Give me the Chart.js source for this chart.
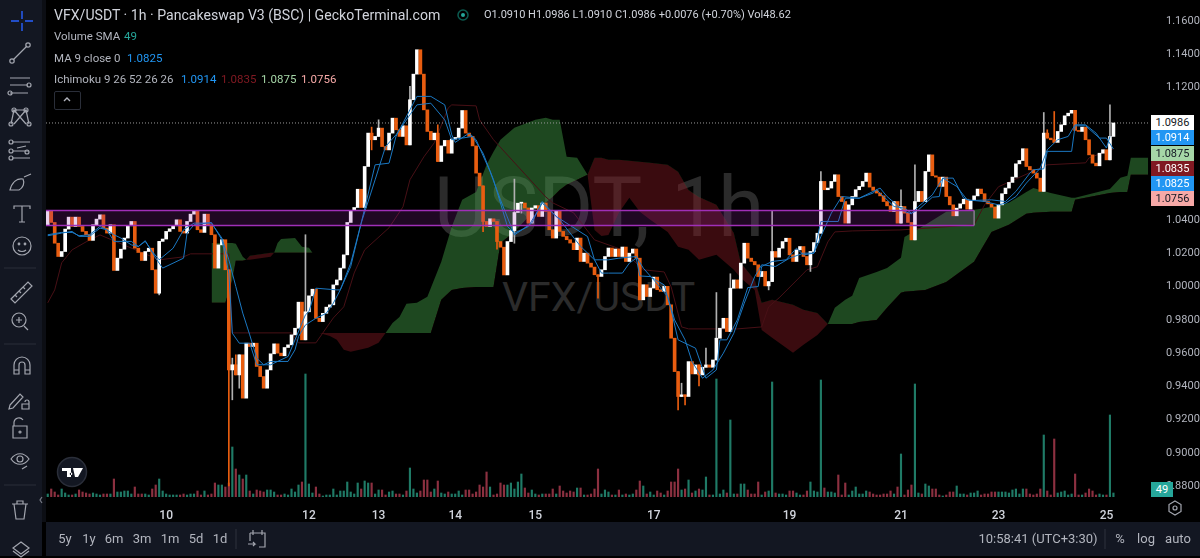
<!DOCTYPE html>
<html>
<head>
<meta charset="utf-8">
<title>VFX/USDT</title>
<script src="https://cdn.jsdelivr.net/npm/chart.js@4"></script>
<style>
  html, body { margin: 0; padding: 0; background: #000; }
  body { width: 1200px; height: 558px; overflow: hidden; position: relative; font-family: Roboto, sans-serif; }
  #chart { position: absolute; left: 0; top: 0; z-index: 2; }
  .abs { position: absolute; white-space: nowrap; }
  .wm { z-index: 1; color: #2b2b2b; }
  #wm1 { left: 434px; top: 158px; font-size: 84px; line-height: 100px; }
  #wm2 { left: 502px; top: 272px; font-size: 41px; line-height: 50px; }
  .panel { background: #131722; z-index: 3; }
  #leftbar { left: 0; top: 0; width: 42px; height: 556px; }
  #leftgap { left: 42px; top: 0; width: 4px; height: 522px; background: #0c0e14; z-index: 3; }
  #bottombar { left: 46px; top: 522px; width: 1154px; height: 34px; background: #131722; z-index: 3; }
  #icons { position: absolute; left: 0; top: 0; z-index: 4; }
  .t { z-index: 5; color: #b2b5be; font-size: 11.5px; line-height: 14px; }
  .head { color: #d1d4dc; font-size: 14.1px; line-height: 16px; }
  .tag { z-index: 5; left: 1151px; width: 43px; height: 15px; font-size: 11px; line-height: 15px; text-align: center; }
  .bot { z-index: 5; color: #b2b5be; font-size: 13px; line-height: 16px; top: 531px; transform: translateX(-50%); }
  #collapse { z-index: 4; left: 54px; top: 91px; width: 25px; height: 17px; border: 1px solid #2a2e39; border-radius: 2px; }
</style>
</head>
<body>
<div class="abs wm" id="wm1">USDT, 1h</div>
<div class="abs wm" id="wm2">VFX/USDT</div>
<canvas id="chart" width="1200" height="558"></canvas>

<div class="abs panel" id="leftbar"></div>
<div class="abs" id="leftgap"></div>
<div class="abs" id="bottombar"></div>

<svg id="icons" width="1200" height="558" fill="none" stroke="#a3a6af" stroke-width="1.2">
  <!-- left toolbar -->
  <path d="M22 11v8M22 23v8M11 21h8M25 21h8" stroke="#2962ff" stroke-width="1.4"/>
  <path d="M13 60L27 46"/><circle cx="12" cy="61" r="2.2"/><circle cx="28" cy="45" r="2.2"/>
  <path d="M10 78h20M10 85h18M10 93h18"/><circle cx="29" cy="85" r="2"/><circle cx="10" cy="93" r="2"/>
  <path d="M14 110L26 124M26 110L14 124M14 110l-3 14M26 110l3 14M13 110h14"/><circle cx="14" cy="110" r="2"/><circle cx="26" cy="110" r="2"/><circle cx="11" cy="124" r="2"/><circle cx="29" cy="124" r="2"/>
  <path d="M12 142h18M13 151h16M12 158h18M17 148l9-2" /><circle cx="11" cy="142" r="2"/><circle cx="11" cy="151" r="2"/><circle cx="27" cy="152" r="2"/><circle cx="11" cy="158" r="2"/>
  <path d="M10 190c2-8 7-12 13-11 2 4 0 9-4 11zM24 177l7-3"/>
  <path d="M14 209v-3h16v3M22 206v16M19 222h6"/>
  <circle cx="22" cy="246" r="9"/><circle cx="19" cy="244" r=".8"/><circle cx="25" cy="244" r=".8"/><path d="M18 250c2 2 6 2 8 0"/>
  <path d="M4 268h32M4 344h32M4 485h32" stroke="#2a2e39"/>
  <path d="M11 299l17-17 4 4-17 17zM15 295l2 2M19 291l2 2M23 287l2 2"/>
  <circle cx="19" cy="320" r="7"/><path d="M24 326l4 4M19 317v6M16 320h6"/>
  <path d="M14 374v-9a8 8 0 0 1 16 0v9h-5v-9a3 3 0 0 0-6 0v9zM14 370h5M25 370h5"/>
  <path d="M10 405l10-11 3 3-10 11-4 1zM25 402a2 2 0 0 1 4 0v2M22 404h7v5h-7z"/>
  <path d="M14 426v-4a5 5 0 0 1 9-2M13 426h14v12h-14z"/><circle cx="20" cy="432" r="1"/>
  <path d="M11 459c5-7 13-7 18 0-5 7-13 7-18 0z"/><circle cx="20" cy="459" r="3"/><path d="M22 469l5-3"/>
  <path d="M12 504h16M17 504v-3h6v3M14 504l2 15h8l2-15"/>
  <path d="M21 542l8 6-8 6-8-6zM13 551l8 6 8-6" />
  <path d="M42 497l-2 3 2 3" stroke="#787b86"/>
  <!-- TradingView logo -->
  <circle cx="72" cy="472" r="14.5" fill="#131722" stroke="#2a2e39" stroke-width="1.5"/>
  <path d="M62 468h9v9h-4v-6h-5zM73 468h10l-5 9h-3z M71 472.5a1.3 1.3 0 1 0 .1 0" fill="#fff" stroke="none"/>
  <!-- legend chevron and status dot -->
  <path d="M64 101l3-3 3 3" stroke="#b2b5be" stroke-width="1.4"/>
  <circle cx="463" cy="15" r="5" stroke="#0b5b50" stroke-width="1.5"/><circle cx="463" cy="15" r="2" fill="#26a69a" stroke="none"/>
  <!-- axis gear, calendar, separators -->
  <path d="M1175 501l6 3.500v7l-6 3.500-6-3.500v-7z"/><circle cx="1175" cy="508" r="2"/>
  <path d="M250 533h15v14h-6M253 530v5M262 530v5M250 541v-8M248 544h7l-2-2M255 544l-2 2"/>
  <path d="M236 529v20M1105 529v20" stroke="#2a2e39"/>
</svg>

<div class="abs t head" style="left:54px;top:7px">VFX/USDT · 1h · Pancakeswap V3 (BSC) | GeckoTerminal.com</div>
<div class="abs t" style="left:484px;top:8px;color:#d1d4dc;font-size:11px">O1.0910 H1.0986 L1.0910 C1.0986 +0.0076 (+0.70%) Vol48.62</div>
<div class="abs t" style="left:54px;top:29px">Volume SMA</div>
<div class="abs t" style="left:124px;top:29px;color:#26a69a">49</div>
<div class="abs t" style="left:54px;top:51px">MA 9 close 0</div>
<div class="abs t" style="left:127px;top:51px;color:#2196f3">1.0825</div>
<div class="abs t" style="left:54px;top:72px">Ichimoku 9 26 52 26 26</div>
<div class="abs t" style="left:181px;top:72px;color:#2196f3">1.0914</div>
<div class="abs t" style="left:221px;top:72px;color:#801922">1.0835</div>
<div class="abs t" style="left:261px;top:72px;color:#a5d6a7">1.0875</div>
<div class="abs t" style="left:301px;top:72px;color:#f7a9a7">1.0756</div>
<div class="abs" id="collapse"></div>

<div class="abs tag" style="top:115px;background:#fff;color:#131722">1.0986</div>
<div class="abs tag" style="top:130px;background:#2196f3;color:#fff">1.0914</div>
<div class="abs tag" style="top:146px;background:#a5d6a7;color:#131722">1.0875</div>
<div class="abs tag" style="top:161px;background:#801922;color:#fff">1.0835</div>
<div class="abs tag" style="top:176px;background:#2196f3;color:#fff">1.0825</div>
<div class="abs tag" style="top:191px;background:#f7a9a7;color:#131722">1.0756</div>
<div class="abs tag" style="top:482px;left:1151px;width:22px;background:#26a69a;color:#fff">49</div>

<div class="abs bot" style="left:65px">5y</div>
<div class="abs bot" style="left:89px">1y</div>
<div class="abs bot" style="left:114px">6m</div>
<div class="abs bot" style="left:142px">3m</div>
<div class="abs bot" style="left:170px">1m</div>
<div class="abs bot" style="left:196px">5d</div>
<div class="abs bot" style="left:220px">1d</div>
<div class="abs bot" style="left:1038px">10:58:41 (UTC+3:30)</div>
<div class="abs bot" style="left:1120px">%</div>
<div class="abs bot" style="left:1146px">log</div>
<div class="abs bot" style="left:1178px">auto</div>

<script>
const barSlots = 317;
const firstOpen = 1.0373;
const closes = [
    1.0459,1.0387,1.0262,1.0182,1.0212,1.0347,1.0419,1.0363,1.0419,1.0363,
    1.0333,1.0313,1.0279,1.0373,1.0407,1.0433,1.0353,1.0323,1.0373,1.0098,
    1.0172,1.0226,1.0293,1.0367,1.0393,1.0232,1.0206,1.0158,1.0212,1.0232,
    1.0102,0.9961,1.0273,1.0287,1.0333,1.0349,1.0367,1.0403,1.0333,1.0323,
    1.0393,1.0437,1.0457,1.0343,1.0327,1.0437,1.0373,1.0313,1.0112,1.0252,
    1.0283,1.0102,0.9499,0.9530,0.9469,0.9590,0.9329,0.9660,0.9640,0.9660,
    0.9520,0.9459,0.9389,0.9499,0.9596,0.9656,0.9600,0.9584,0.9634,0.9650,
    0.9710,0.9750,0.9907,0.9680,0.9849,0.9945,0.9985,0.9810,0.9790,0.9840,
    0.9877,0.9891,1.0011,1.0041,1.0112,1.0192,1.0387,1.0459,1.0477,1.0587,
    1.0477,1.0724,1.0925,1.0885,1.0905,1.0955,1.0844,1.0824,1.0925,1.1015,
    1.0945,1.0905,1.0969,1.0854,1.1126,1.1280,1.1427,1.1280,1.1065,1.0935,
    1.0885,1.0925,1.0754,1.0848,1.0881,1.0804,1.0889,1.0899,1.0955,1.1061,
    1.0925,1.0905,1.0848,1.0684,1.0607,1.0393,1.0363,1.0409,1.0393,1.0272,
    1.0238,1.0071,1.0272,1.0338,1.0447,1.0503,1.0504,1.0474,1.0383,1.0474,
    1.0488,1.0423,1.0504,1.0453,1.0343,1.0293,1.0460,1.0333,1.0303,1.0283,
    1.0263,1.0223,1.0293,1.0152,1.0202,1.0142,1.0118,1.0072,1.0062,1.0102,
    1.0182,1.0233,1.0182,1.0227,1.0182,1.0239,1.0152,1.0202,1.0227,1.0172,
    0.9921,1.0012,0.9941,0.9992,1.0058,0.9982,0.9972,1.0002,0.9891,0.9690,
    0.9489,0.9339,0.9349,0.9339,0.9549,0.9475,0.9529,0.9469,0.9515,0.9529,
    0.9515,0.9559,0.9690,0.9750,0.9810,0.9730,0.9991,1.0041,0.9991,1.0142,
    1.0262,1.0172,1.0152,1.0132,1.0061,1.0092,1.0005,1.0031,1.0212,1.0178,
    1.0232,1.0272,1.0292,1.0192,1.0152,1.0222,1.0242,1.0182,1.0132,1.0212,
    1.0266,1.0322,1.0634,1.0584,1.0594,1.0634,1.0674,1.0543,1.0513,1.0383,
    1.0493,1.0543,1.0584,1.0604,1.0634,1.0684,1.0600,1.0580,1.0564,1.0547,
    1.0513,1.0487,1.0453,1.0513,1.0383,1.0483,1.0443,1.0387,1.0282,1.0513,
    1.0574,1.0513,1.0694,1.0794,1.0668,1.0660,1.0604,1.0660,1.0543,1.0493,
    1.0427,1.0473,1.0499,1.0527,1.0467,1.0519,1.0547,1.0588,1.0560,1.0513,
    1.0499,1.0479,1.0413,1.0493,1.0560,1.0594,1.0628,1.0660,1.0740,1.0760,
    1.0831,1.0724,1.0704,1.0684,1.0654,1.0574,1.0925,1.0895,1.0885,1.0869,
    1.0935,1.0975,1.1029,1.1045,1.1062,1.0941,1.0935,1.0961,1.0885,1.0794,
    1.0744,1.0728,1.0804,1.0825,1.0764,1.0905,1.0986
];
const wickIdx  = [32,52,53,54,55,74,93,95,104,112,125,129,134,136,158,181,182,183,187,189,192,196,207,208,219,222,245,249,286,287,289,305];
const wickHigh = [null,null,0.9570,0.9590,null,1.0313,1.0961,1.1005,1.1206,1.0975,null,null,1.0648,null,null,null,0.9419,null,null,0.9630,0.9965,1.0078,null,1.0459,null,1.0694,1.0584,1.0734,1.1049,1.0945,1.1055,1.1096];
const wickLow  = [0.9951,0.8800,0.9319,null,0.9389,null,1.0824,null,null,null,1.0332,1.0226,1.0262,1.0443,0.9931,0.9258,null,0.9288,0.9403,null,null,null,0.9981,null,1.0092,null,null,null,null,null,null,null];
const volumes = [
    3,8,5,2,8,4,2,2,3,7,5,4,3,4,3,2,3,3,3,18,5,5,6,6,3,10,3,3,3,2,8,12,18,6,3,2,2,2,2,3,2,3,3,6,2,6,2,3,14,12,12,10,
    14,50,28,22,18,22,6,3,7,6,5,7,7,5,2,2,3,2,8,5,12,15,123,13,4,10,3,1,2,2,8,2,6,6,15,5,3,14,8,16,14,14,3,7,7,2,5,6,
    3,3,2,6,29,8,4,6,17,17,5,8,16,4,3,5,3,3,6,2,7,7,3,5,12,10,25,10,2,3,14,12,12,14,8,15,23,9,4,7,3,2,3,3,3,8,3,11,6,4,
    6,5,9,9,2,2,3,8,28,3,7,5,2,2,7,2,3,2,3,7,16,11,3,5,2,6,4,2,6,15,15,28,7,8,17,4,6,8,7,20,2,2,118,3,7,4,77,3,3,13,13,
    7,3,3,15,2,5,6,115,4,3,3,2,6,6,4,2,2,6,15,6,5,117,9,5,5,4,22,2,14,2,6,10,3,3,6,5,3,2,2,3,3,6,3,10,43,2,7,12,113,4,3,
    13,11,8,8,2,1,2,5,5,11,3,3,2,4,4,6,2,3,3,5,5,5,5,5,4,7,8,3,8,8,3,2,3,8,62,6,2,58,4,5,6,2,3,23,2,2,4,8,6,2,3,2,2,82,4
];

const maIdx  = [0,4,7,9,12,15,17,19,21,24,26,28,30,32,36,39,42,47,50,52,54,56,58,60,62,64,69,71,72,74,77,80,82,84,87,90,94,97,100,104,106,110,114,116,119,122,125,128,132,134,138,142,147,150,153,157,161,164,169,171,174,178,180,183,185,188,191,194,197,200,203,205,209,213,217,220,222,225,228,233,239,241,246,248,250,254,257,261,264,269,273,275,278,281,285,287,290,293,295,298,301,304,305];
const maVals = [1.0313,1.0327,1.0327,1.0307,1.0313,1.0363,1.0343,1.0313,1.0293,1.0252,1.0242,1.0273,1.0212,1.0162,1.0232,1.0343,1.0383,1.0383,1.0293,1.0162,1.0001,0.9841,0.9710,0.9570,0.9530,0.9550,0.9550,0.9620,0.9700,0.9770,0.9810,0.9840,0.9901,0.9981,1.0122,1.0383,1.0644,1.0844,1.0915,1.1035,1.1095,1.1105,1.1005,1.0885,1.0895,1.0905,1.0804,1.0644,1.0363,1.0322,1.0363,1.0503,1.0403,1.0323,1.0243,1.0162,1.0162,1.0172,1.0182,1.0112,1.0041,0.9941,0.9800,0.9680,0.9549,0.9449,0.9499,0.9600,0.9720,0.9901,1.0061,1.0132,1.0122,1.0172,1.0202,1.0202,1.0302,1.0443,1.0543,1.0533,1.0594,1.0543,1.0453,1.0439,1.0483,1.0553,1.0654,1.0604,1.0523,1.0513,1.0493,1.0503,1.0543,1.0624,1.0714,1.0825,1.0885,1.0905,1.0975,1.0975,1.0925,1.0835,1.0905];

const tenkanIdx  = [0,4,7,9,12,15,17,19,24,26,28,31,33,39,40,42,47,50,52,53,55,58,60,64,69,71,74,75,77,83,84,87,90,94,98,100,104,106,110,114,116,117,121,123,127,130,134,139,142,146,155,157,159,161,165,167,169,170,173,177,179,181,186,189,192,193,195,198,201,204,205,208,212,215,217,220,222,227,229,233,237,238,243,246,248,250,254,256,257,260,263,265,271,275,278,282,283,286,287,294,295,298,302,304,306];
const tenkanVals = [1.0307,1.0323,1.0333,1.0303,1.0303,1.0353,1.0343,1.0273,1.0273,1.0242,1.0277,1.0172,1.0112,1.0172,1.0323,1.0373,1.0387,1.0283,1.0082,0.9720,0.9660,0.9660,0.9530,0.9530,0.9580,0.9680,0.9831,0.9850,0.9991,0.9981,0.9981,1.0142,1.0383,1.0734,1.0744,1.0905,1.1065,1.1146,1.1146,1.1095,1.0915,1.0869,1.0925,1.0885,1.0694,1.0523,1.0312,1.0383,1.0513,1.0423,1.0302,1.0162,1.0082,1.0082,1.0082,1.0142,1.0172,1.0065,1.0061,1.0011,0.9861,0.9680,0.9630,0.9449,0.9499,0.9680,0.9680,0.9800,0.9995,1.0001,1.0122,1.0152,1.0162,1.0232,1.0192,1.0202,1.0393,1.0393,1.0533,1.0533,1.0564,1.0584,1.0483,1.0473,1.0443,1.0463,1.0539,1.0543,1.0654,1.0654,1.0533,1.0519,1.0523,1.0513,1.0574,1.0684,1.0704,1.0710,1.0815,1.0815,1.0969,1.0969,1.0895,1.0895,1.0829];

const kijunIdx  = [0,2,4,7,11,15,32,39,41,52,53,70,72,77,82,85,88,91,98,102,104,108,111,115,116,123,124,128,143,145,151,157,165,171,177,179,182,184,198,205,207,210,216,218,221,224,226,231,245,266,269,273,287,298,299,306];
const kijunVals = [0.9903,0.9981,1.0144,1.0222,1.0270,1.0312,1.0162,1.0180,1.0198,1.0198,0.9722,0.9722,0.9662,0.9662,0.9812,0.9879,1.0083,1.0222,1.0355,1.0481,1.0644,1.0782,1.0867,1.1077,1.1095,1.1089,1.1005,1.0885,1.0541,1.0505,1.0445,1.0282,1.0222,1.0102,1.0089,0.9999,0.9758,0.9746,0.9746,0.9758,0.9879,0.9933,1.0059,1.0102,1.0120,1.0270,1.0330,1.0336,1.0342,1.0373,1.0493,1.0602,1.0734,1.0746,1.0776,1.0830];

const cloudIdx = [47,51,53,54,56,57,58,64,65,66,67,71,73,75,76,78,81,83,85,87,92,95,97,99,101,103,106,109,110,113,116,119,123,126,128,130,134,140,143,145,147,149,152,155,157,159,161,164,167,170,173,178,181,184,187,192,197,199,203,205,208,214,217,221,224,226,229,231,233,238,241,245,246,252,258,266,268,271,276,281,283,288,294,295,305,308,310,311,316];
const spanA = [1.0264,1.0264,1.0264,1.0258,1.0180,1.0162,1.0162,1.0180,1.0204,1.0264,1.0288,1.0294,1.0240,1.0234,1.0204,0.9722,0.9704,0.9680,0.9620,0.9608,0.9632,0.9662,0.9722,0.9782,0.9818,0.9897,0.9903,0.9939,0.9993,1.0150,1.0361,1.0523,1.0571,1.0734,1.0812,1.0885,1.0957,1.1005,1.1017,1.1005,1.1005,1.0782,1.0776,1.0674,1.0342,1.0306,1.0312,1.0445,1.0535,1.0451,1.0403,1.0330,1.0240,1.0222,1.0162,1.0192,1.0102,1.0053,0.9981,0.9740,0.9692,0.9602,0.9650,0.9710,0.9776,0.9873,0.9921,0.9945,1.0053,1.0089,1.0113,1.0174,1.0300,1.0373,1.0451,1.0463,1.0469,1.0481,1.0505,1.0571,1.0595,1.0565,1.0535,1.0535,1.0589,1.0656,1.0668,1.0776,1.0776];
const spanB = [0.9903,0.9903,1.0041,1.0156,1.0156,1.0162,1.0186,1.0204,1.0204,1.0204,1.0204,1.0204,1.0204,1.0204,1.0204,0.9722,0.9722,0.9722,0.9722,0.9722,0.9722,0.9722,0.9722,0.9722,0.9722,0.9722,0.9722,0.9722,0.9722,0.9921,0.9981,0.9993,0.9999,0.9999,0.9999,1.0264,1.0330,1.0463,1.0505,1.0541,1.0583,1.0614,1.0644,1.0674,1.0776,1.0776,1.0764,1.0764,1.0758,1.0752,1.0746,1.0734,1.0692,1.0583,1.0541,1.0493,1.0324,1.0144,1.0041,0.9903,0.9921,0.9891,0.9861,0.9842,0.9776,0.9776,0.9776,0.9776,0.9788,0.9800,0.9873,0.9963,0.9969,0.9981,1.0029,1.0150,1.0222,1.0330,1.0373,1.0439,1.0445,1.0451,1.0451,1.0523,1.0565,1.0571,1.0571,1.0674,1.0674];

const dayTickIdx = [34,75,95,117,140,174,213,245,273,304];
const dayTickLabels = ['10','12','13','14','15','17','19','21','23','25'];
const priceTicks = [1.16,1.14,1.12,1.04,1.02,1.00,0.98,0.96,0.94,0.92,0.90,0.88];

const lastPrice = 1.0986;
const zoneTop = 1.0459;
const zoneBottom = 1.0369;
const zoneEndIdx = 266;

const opens = closes.map((c, i) => i === 0 ? firstOpen : closes[i - 1]);
const isUp = closes.map((c, i) => c >= opens[i]);
const points = (xs, ys) => xs.map((x, i) => ({ x: x, y: ys[i] }));

// purple rectangle drawing sits above the series
const zonePlugin = {
    id: 'zone',
    afterDatasetsDraw(chart) {
        const { ctx, chartArea, scales } = chart;
        const top = scales.y.getPixelForValue(zoneTop);
        const bottom = scales.y.getPixelForValue(zoneBottom);
        const right = scales.x.getPixelForValue(zoneEndIdx);
        ctx.save();
        ctx.fillStyle = 'rgba(156,39,176,0.2)';
        ctx.fillRect(chartArea.left, top, right - chartArea.left, bottom - top);
        ctx.strokeStyle = '#a02fb8';
        ctx.lineWidth = 1.5;
        ctx.beginPath();
        ctx.moveTo(chartArea.left, top);
        ctx.lineTo(right, top);
        ctx.moveTo(chartArea.left, bottom);
        ctx.lineTo(right, bottom);
        ctx.stroke();
        ctx.strokeStyle = '#8a7a90';
        ctx.beginPath();
        ctx.moveTo(right, top);
        ctx.lineTo(right, bottom);
        ctx.stroke();
        ctx.restore();
    }
};

new Chart(document.getElementById('chart'), {
    type: 'bar',
    plugins: [zonePlugin],
    data: {
        datasets: [
            {
                type: 'line', label: 'Lead A', data: points(cloudIdx, spanA), yAxisID: 'y',
                borderWidth: 0, pointRadius: 0, order: 10,
                fill: { target: 1, above: 'rgba(67,160,71,0.45)', below: 'rgba(128,25,34,0.45)' }
            },
            {
                type: 'line', label: 'Lead B', data: points(cloudIdx, spanB), yAxisID: 'y',
                borderWidth: 0, pointRadius: 0, order: 10, fill: false
            },
            {
                label: 'Volume', data: volumes.map((v, i) => ({ x: i, y: v })), yAxisID: 'vol', order: 9,
                barThickness: 1.5,
                backgroundColor: isUp.map(u => u ? '#1f7a66' : '#8c3040')
            },
            {
                type: 'line', label: 'Last', data: points([-0.5, barSlots - 0.5], [lastPrice, lastPrice]), yAxisID: 'y',
                borderColor: '#9a9a9a', borderWidth: 1, borderDash: [1, 2], pointRadius: 0, order: 8
            },
            {
                type: 'line', label: 'Kijun', data: points(kijunIdx, kijunVals), yAxisID: 'y',
                borderColor: '#481016', borderWidth: 1, pointRadius: 0, order: 8
            },
            {
                label: 'Wicks', yAxisID: 'y', order: 7, barThickness: 1,
                data: wickIdx.map((idx, k) => ({
                    x: idx,
                    y: [wickLow[k] ?? Math.min(opens[idx], closes[idx]), wickHigh[k] ?? Math.max(opens[idx], closes[idx])]
                })),
                backgroundColor: wickIdx.map(idx => isUp[idx] ? '#b0b0b0' : '#e85d10')
            },
            {
                label: 'Candles', yAxisID: 'y', order: 6, barThickness: 3, minBarLength: 1,
                data: closes.map((c, i) => ({ x: i, y: [opens[i], c] })),
                backgroundColor: isUp.map(u => u ? '#ffffff' : '#e85d10')
            },
            {
                type: 'line', label: 'Tenkan', data: points(tenkanIdx, tenkanVals), yAxisID: 'y',
                borderColor: '#1b78c2', borderWidth: 1, pointRadius: 0, order: 5
            },
            {
                type: 'line', label: 'MA 9', data: points(maIdx, maVals), yAxisID: 'y',
                borderColor: '#1b78c2', borderWidth: 1, pointRadius: 0, order: 5
            }
        ]
    },
    options: {
        responsive: false,
        animation: false,
        events: [],
        datasets: { bar: { grouped: false } },
        layout: { padding: { left: 46 } },
        plugins: { legend: { display: false }, tooltip: { enabled: false } },
        scales: {
            x: {
                type: 'linear',
                offset: false,
                min: -0.5,
                max: barSlots - 0.5,
                grid: { display: false },
                border: { display: false },
                afterBuildTicks: scale => { scale.ticks = dayTickIdx.map(v => ({ value: v })); },
                afterFit: scale => { scale.height = 61; scale.paddingLeft = 0; scale.paddingRight = 0; },
                ticks: {
                    autoSkip: false, maxRotation: 0, padding: 4, color: '#d1d4dc',
                    font: { family: 'Roboto', size: 12, weight: '500' },
                    callback: value => dayTickLabels[dayTickIdx.indexOf(value)]
                }
            },
            y: {
                position: 'right',
                min: 0.87338,
                max: 1.17265,
                grid: { display: false },
                border: { display: false },
                afterBuildTicks: scale => { scale.ticks = priceTicks.map(v => ({ value: v })); },
                afterFit: scale => { scale.width = 50; scale.paddingTop = 0; scale.paddingBottom = 0; },
                ticks: {
                    autoSkip: false, padding: 8, color: '#b2b5be',
                    font: { family: 'Roboto', size: 11 },
                    callback: value => value.toFixed(4)
                }
            },
            vol: {
                display: false,
                min: 0,
                max: 497
            }
        }
    }
});
</script>
</body>
</html>
